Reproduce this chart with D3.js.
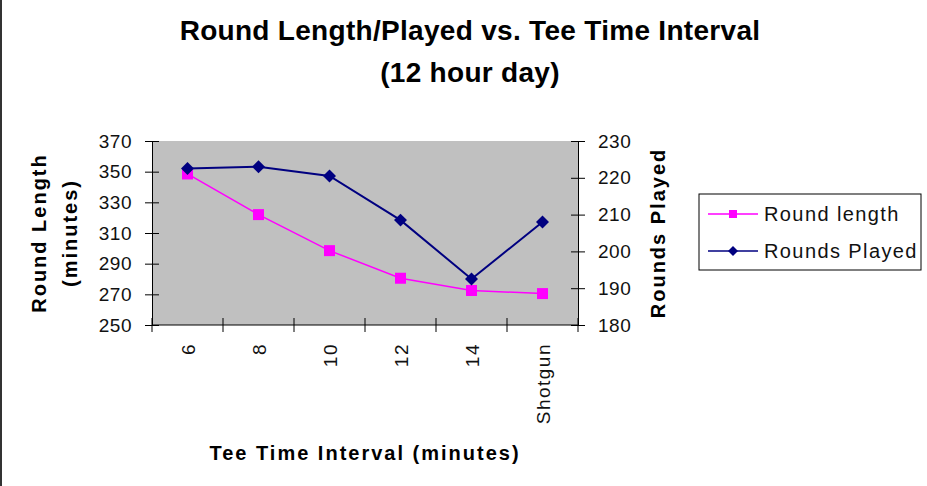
<!DOCTYPE html>
<html>
<head>
<meta charset="utf-8">
<script src="https://cdn.jsdelivr.net/npm/d3@7"></script>
<style>
  body { margin: 0; background: #fff; }
  text { font-family: "Liberation Sans", Arial, sans-serif; fill: #000; }
</style>
</head>
<body>
<div id="chart"></div>
<script>
var categories = ["6", "8", "10", "12", "14", "Shotgun"];
var roundLength = [348.5, 322, 298.5, 280.5, 272.5, 270.5];
var roundsPlayed = [222.5, 223, 220.5, 208.5, 192.5, 208];
var leftTicks = [250, 270, 290, 310, 330, 350, 370];
var rightTicks = [180, 190, 200, 210, 220, 230];

var width = 927, height = 486;
var plot = { left: 152, right: 578, top: 141, bottom: 325 };

var svg = d3.select("#chart").append("svg")
    .attr("width", width)
    .attr("height", height);

// left edge of the chart frame
svg.append("line")
    .attr("x1", 1).attr("x2", 1)
    .attr("y1", 0).attr("y2", height)
    .style("stroke", "#333")
    .style("stroke-width", 2);

var x = d3.scaleBand()
    .domain(categories)
    .range([plot.left, plot.right]);

var yLeft = d3.scaleLinear()
    .domain([250, 370])
    .range([plot.bottom, plot.top]);

var yRight = d3.scaleLinear()
    .domain([180, 230])
    .range([plot.bottom, plot.top]);

svg.append("rect")
    .attr("x", plot.left)
    .attr("y", plot.top)
    .attr("width", plot.right - plot.left)
    .attr("height", plot.bottom - plot.top)
    .style("fill", "#c0c0c0");

// title
var title = svg.append("text")
    .attr("text-anchor", "middle")
    .style("font-weight", "bold")
    .style("font-size", "28px")
    .style("letter-spacing", "0.3px");
title.append("tspan").attr("x", 470).attr("y", 40).text("Round Length/Played vs. Tee Time Interval");
title.append("tspan").attr("x", 470).attr("y", 82).text("(12 hour day)");

// left axis
var leftAxis = svg.append("g")
    .attr("transform", "translate(" + plot.left + ",0)")
    .call(d3.axisLeft(yLeft).tickValues(leftTicks).tickSize(7).tickPadding(13));
leftAxis.selectAll(".tick line").attr("x1", 7).attr("x2", -7);

// right axis
var rightAxis = svg.append("g")
    .attr("transform", "translate(" + plot.right + ",0)")
    .call(d3.axisRight(yRight).tickValues(rightTicks).tickSize(7).tickPadding(13));
rightAxis.selectAll(".tick line").attr("x1", -7);

// bottom axis, ticks on category boundaries
var bottomAxis = svg.append("g")
    .attr("transform", "translate(0," + plot.bottom + ")");
bottomAxis.append("line")
    .attr("x1", plot.left).attr("x2", plot.right)
    .style("stroke", "#000");
var bounds = categories.map(function (c) { return x(c); }).concat([plot.right]);
bottomAxis.selectAll(".bt")
    .data(bounds)
    .join("line")
    .attr("x1", function (d) { return d; })
    .attr("x2", function (d) { return d; })
    .attr("y1", -7).attr("y2", 7)
    .style("stroke", "#000");
bottomAxis.selectAll(".bl")
    .data(categories)
    .join("text")
    .attr("transform", function (d) {
        return "translate(" + (x(d) + x.bandwidth() / 2 + 7) + ",18) rotate(-90)";
    })
    .attr("text-anchor", "end")
    .style("font-size", "19px")
    .style("letter-spacing", "1.5px")
    .style("fill", "#111")
    .text(function (d) { return d; });

svg.selectAll(".domain").style("stroke", "#000");
svg.selectAll(".tick line").style("stroke", "#000");
svg.selectAll(".tick text")
    .style("font-size", "19px")
    .style("letter-spacing", "0.5px")
    .style("font-family", "'Liberation Sans', Arial, sans-serif")
    .style("fill", "#111");

// axis titles
function axisTitle(tx, ty, rot, txt) {
    svg.append("text")
        .attr("transform", "translate(" + tx + "," + ty + ")" + (rot ? " rotate(-90)" : ""))
        .attr("text-anchor", "middle")
        .style("font-weight", "bold")
        .style("font-size", "20px")
        .style("letter-spacing", "2px")
        .text(txt);
}
axisTitle(46, 233, true, "Round Length");
axisTitle(77, 233, true, "(minutes)");
axisTitle(665, 233, true, "Rounds Played");
axisTitle(365, 460, false, "Tee Time Interval (minutes)");

function cx(i) { return x(categories[i]) + x.bandwidth() / 2; }

var lineLeft = d3.line()
    .x(function (d, i) { return cx(i); })
    .y(function (d) { return yLeft(d); });
var lineRight = d3.line()
    .x(function (d, i) { return cx(i); })
    .y(function (d) { return yRight(d); });

svg.append("path")
    .datum(roundLength)
    .attr("d", lineLeft)
    .style("fill", "none")
    .style("stroke", "#ff00ff")
    .style("stroke-width", 1.5);

svg.append("path")
    .datum(roundsPlayed)
    .attr("d", lineRight)
    .style("fill", "none")
    .style("stroke", "#000080")
    .style("stroke-width", 2);

var square = d3.symbol().type(d3.symbolSquare).size(121);
var diamond = d3.symbol().type(d3.symbolSquare).size(84);

svg.selectAll(".sq")
    .data(roundLength)
    .join("path")
    .attr("d", square)
    .attr("transform", function (d, i) { return "translate(" + cx(i) + "," + yLeft(d) + ")"; })
    .style("fill", "#ff00ff");

svg.selectAll(".dm")
    .data(roundsPlayed)
    .join("path")
    .attr("d", diamond)
    .attr("transform", function (d, i) { return "translate(" + cx(i) + "," + yRight(d) + ") rotate(45)"; })
    .style("fill", "#000080");

// legend
var legend = svg.append("g");
legend.append("rect")
    .attr("x", 699).attr("y", 194)
    .attr("width", 222).attr("height", 76)
    .style("fill", "#fff")
    .style("stroke", "#000");

var series = [
    { name: "Round length", color: "#ff00ff", size: 64, rot: 0, y: 214 },
    { name: "Rounds Played", color: "#000080", size: 50, rot: 45, y: 251 }
];
series.forEach(function (s) {
    legend.append("line")
        .attr("x1", 708).attr("x2", 758)
        .attr("y1", s.y).attr("y2", s.y)
        .style("stroke", s.color)
        .style("stroke-width", 1.5);
    legend.append("path")
        .attr("d", d3.symbol().type(d3.symbolSquare).size(s.size))
        .attr("transform", "translate(733," + s.y + ") rotate(" + s.rot + ")")
        .style("fill", s.color);
    legend.append("text")
        .attr("x", 764).attr("y", s.y + 7)
        .style("font-size", "20px")
        .style("letter-spacing", "1.4px")
        .style("fill", "#111")
        .text(s.name);
});
</script>
</body>
</html>
